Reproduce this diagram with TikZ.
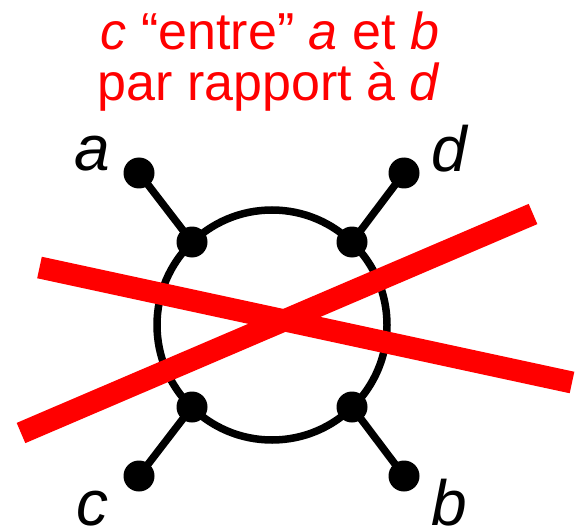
\documentclass[tikz,border=0pt]{standalone}
\usepackage{fontspec}
\setmainfont{Liberation Sans}
\begin{document}
\begin{tikzpicture}[x=1pt,y=-1pt,
  dot/.style={circle,fill=black,inner sep=0pt,minimum size=31pt},
  link/.style={line width=7.5pt,black},
  ring/.style={circle,draw=black,line width=7.5pt,inner sep=0pt,minimum size=230pt},
  cross/.style={line width=22pt,draw={rgb,255:red,255;green,0;blue,0}},
  title/.style={text={rgb,255:red,255;green,0;blue,0},font=\fontsize{52}{52}\selectfont,inner sep=0pt,anchor=base},
  lab/.style={font=\fontsize{64}{64}\selectfont\itshape,inner sep=0pt,anchor=base}]
\useasboundingbox (0,0) rectangle (577,529);
% title
\node[title] (t1) at (270,50) {\textit{c} “entre” \textit{a} et \textit{b}};
\node[title] (t2) at (269,101) {par rapport à \textit{d}};
% ring
\node[ring] (ring) at (272,325) {};
% inner dots
\node[dot] (ia) at (192,242) {};
\node[dot] (id) at (352,242) {};
\node[dot] (ic) at (192,407) {};
\node[dot] (ib) at (352,407) {};
% outer dots
\node[dot] (oa) at (139,173) {};
\node[dot] (od) at (404,173) {};
\node[dot] (oc) at (139,476) {};
\node[dot] (ob) at (404,476) {};
% connectors
\draw[link] (oa.center) -- (ia.center);
\draw[link] (od.center) -- (id.center);
\draw[link] (oc.center) -- (ic.center);
\draw[link] (ob.center) -- (ib.center);
% labels
\node[lab] (la) at (92,171) {a};
\node[lab] (ld) at (449,172) {d};
\node[lab] (lc) at (92,525) {c};
\node[lab] (lb) at (449,525) {b};
% red cross
\coordinate (r1s) at (39.5,267.5);
\coordinate (r1e) at (572,382.5);
\coordinate (r2s) at (21,433);
\coordinate (r2e) at (533,214);
\draw[cross] (r1s) -- (r1e);
\draw[cross] (r2s) -- (r2e);
\end{tikzpicture}
\end{document}
